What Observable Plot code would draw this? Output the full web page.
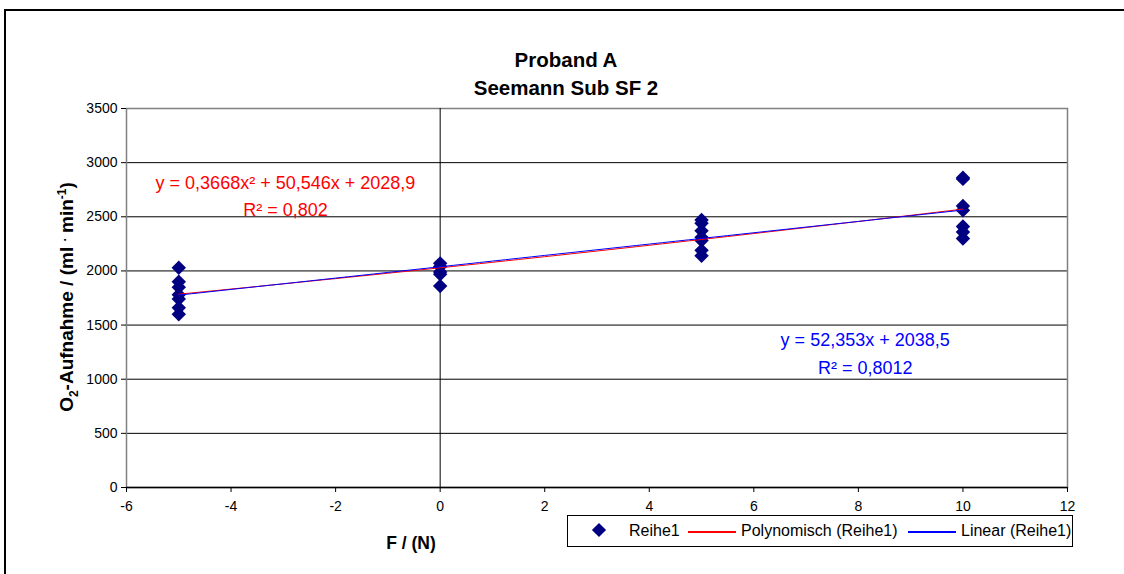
<!DOCTYPE html>
<html><head><meta charset="utf-8">
<script src="https://cdn.jsdelivr.net/npm/d3@7"></script>
<script src="https://cdn.jsdelivr.net/npm/@observablehq/plot@0.6"></script>
<style>
body{margin:0;background:#fff;font-family:"Liberation Sans",Arial,sans-serif;color:#000;overflow:hidden;}
#wrap{position:relative;width:1124px;height:574px;overflow:hidden;background:#fff;}
#wrap svg{position:absolute;left:0;top:0;}
#frame{position:absolute;left:4px;top:9px;width:1140px;height:600px;border:2px solid #000;box-sizing:border-box;}
.title{position:absolute;left:366px;width:400px;text-align:center;font-weight:bold;font-size:20.5px;line-height:20px;}
#ytitle{position:absolute;left:68px;top:297px;transform:translate(-50%,-50%) rotate(-90deg);white-space:nowrap;font-weight:bold;font-size:19px;}
#ytitle sub,#ytitle sup{font-size:12px;}
#xtitle{position:absolute;left:411px;top:533px;transform:translateX(-50%);font-weight:bold;font-size:17.5px;white-space:nowrap;}
#legend{position:absolute;left:567px;top:515px;width:506px;height:32px;border:1px solid #000;box-sizing:border-box;font-size:16px;}
#legend .it{position:absolute;top:6px;white-space:nowrap;}
#legend .ln{position:absolute;top:15px;height:1.5px;width:48px;}
#legend .dm{position:absolute;top:9px;width:10px;height:10px;background:#000080;transform:rotate(45deg);}
</style>
</head><body>
<div id="wrap">
<div id="frame"></div>
</div>
<script>
// ---- data ----
const force = [-5,-5,-5,-5,-5,-5,-5, 0,0,0,0,0, 5,5,5,5,5,5,5, 10,10,10,10,10,10,10];
const vo2   = [2030,1900,1850,1780,1740,1660,1600, 2070,2040,1990,1970,1860, 2470,2440,2370,2310,2280,2190,2140, 2860,2850,2600,2560,2410,2360,2300];
const polyCoef = [0.3668, 50.546, 2028.9];   // a x^2 + b x + c
const linCoef  = [52.353, 2038.5];           // m x + b
const trendRange = [-5, 10];
const xTicks = [-6,-4,-2,0,2,4,6,8,10,12];
const yTicks = [0,500,1000,1500,2000,2500,3000,3500];
const titleLines = ["Proband A","Seemann Sub SF 2"];
const polyLabel = ["y = 0,3668x\u00B2 + 50,546x + 2028,9","R\u00B2 = 0,802"];
const linLabel  = ["y = 52,353x + 2038,5","R\u00B2 = 0,8012"];
const legendNames = ["Reihe1","Polynomisch (Reihe1)","Linear (Reihe1)"];

// ---- derived tables ----
const points = force.map((f,i)=>({x:f,y:vo2[i]}));
const tx = d3.range(trendRange[0], trendRange[1]+1e-9, 0.25);
const polyPts = tx.map(x=>({x, y: polyCoef[0]*x*x + polyCoef[1]*x + polyCoef[2]}));
const linPts  = tx.map(x=>({x, y: linCoef[0]*x + linCoef[1]}));
const labels = [
  {x:-2.96, y:2810, t:polyLabel[0], c:"#ff0000"},
  {x:-2.96, y:2560, t:polyLabel[1], c:"#ff0000"},
  {x:8.13, y:1360, t:linLabel[0], c:"#0000ff"},
  {x:8.13, y:1105, t:linLabel[1], c:"#0000ff"}
];

const chart = Plot.plot({
  width:1124, height:574,
  marginLeft:126, marginRight:57, marginTop:108, marginBottom:87,
  style:{fontFamily:"Liberation Sans, Arial, sans-serif", fontSize:"14px", background:"transparent", color:"#000"},
  x:{domain:[-6,12]},
  y:{domain:[0,3500]},
  marks:[
    Plot.ruleY(yTicks.filter(v=>v>0 && v<3500), {stroke:"#000", strokeWidth:1}),
    Plot.frame({stroke:"#808080", strokeWidth:1.5}),
    Plot.ruleX([0], {stroke:"#000", strokeWidth:1}),
    Plot.ruleY([0], {stroke:"#000", strokeWidth:1.5}),
    Plot.dot(points, {x:"x", y:"y", symbol:"diamond2", r:6.5, fill:"#000080", stroke:"none"}),
    Plot.line(polyPts, {x:"x", y:"y", stroke:"#ff0000", strokeWidth:1}),
    Plot.line(linPts, {x:"x", y:"y", stroke:"#0000ff", strokeWidth:1}),
    Plot.text(labels, {x:"x", y:"y", text:"t", fill:"c", fontSize:18}),
    Plot.axisY({ticks:yTicks, tickSize:5, tickPadding:4, label:null, fontSize:14, tickFormat:d=>String(d)}),
    Plot.axisX({ticks:xTicks, tickSize:5, tickPadding:9, label:null, fontSize:14, tickFormat:d=>String(d)})
  ]
});
const wrap = document.getElementById("wrap");
wrap.appendChild(chart);

// titles
titleLines.forEach((t,i)=>{
  const d=document.createElement("div"); d.className="title"; d.textContent=t;
  d.style.top=(i===0?50:78)+"px"; wrap.appendChild(d);
});
const yt=document.createElement("div"); yt.id="ytitle";
yt.innerHTML="O<sub>2</sub>-Aufnahme / (ml <sup>.</sup> min<sup>-1</sup>)";
wrap.appendChild(yt);
const xt=document.createElement("div"); xt.id="xtitle"; xt.textContent="F / (N)"; wrap.appendChild(xt);

// legend
const lg=document.createElement("div"); lg.id="legend";
lg.innerHTML = `<div class="dm" style="left:26px"></div>
<div class="it" style="left:61px">${legendNames[0]}</div>
<div class="ln" style="left:120px;background:#ff0000"></div>
<div class="it" style="left:173px">${legendNames[1]}</div>
<div class="ln" style="left:340px;background:#0000ff"></div>
<div class="it" style="left:393px">${legendNames[2]}</div>`;
wrap.appendChild(lg);
</script>
</body></html>
